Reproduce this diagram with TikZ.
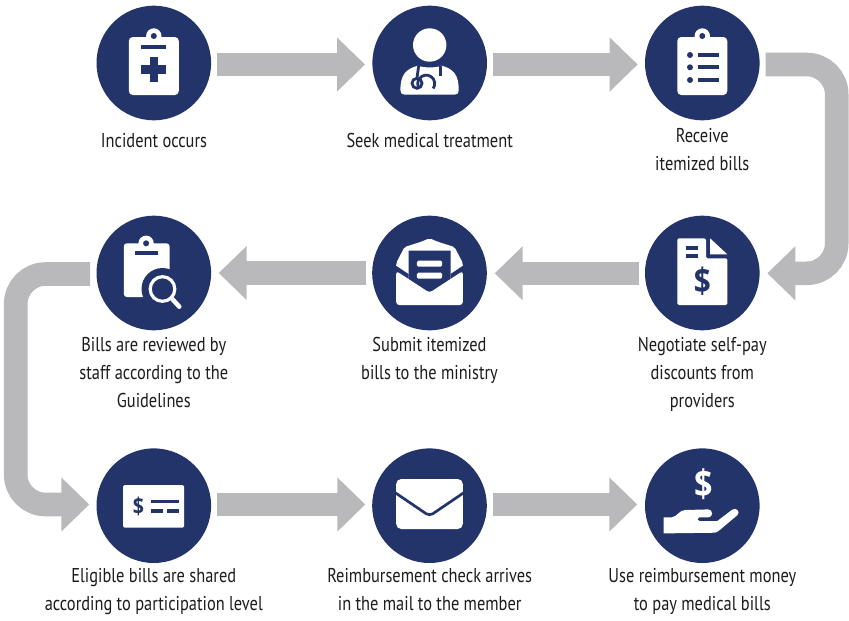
\documentclass[tikz,border=0pt]{standalone}
\usepackage{fontspec}
\setmainfont[FakeStretch=0.82]{PT Sans}
\newfontfamily\dollarfont[FakeStretch=0.85]{Open Sans}
\usetikzlibrary{arrows.meta,calc}
\definecolor{navy}{HTML}{22346A}
\definecolor{flowgray}{HTML}{B9B8BA}
\definecolor{ink}{HTML}{1C1C1C}
\tikzset{
  disc/.style={circle,fill=navy,minimum size=114.6pt,inner sep=0pt,outer sep=0pt},
  flow/.style={draw=flowgray,line width=23.6pt,-{Triangle[width=52.4pt,length=28pt,fill=flowgray]}},
  lbl/.style={anchor=north,inner sep=0pt,outer sep=0pt,align=center,text=ink,
    font=\fontsize{20}{28}\selectfont,execute at begin node=\strut},
  wh/.style={fill=white},
  nv/.style={fill=navy},
  dollar/.style={inner sep=0pt,font=\dollarfont\bfseries\fontsize{#1}{#1}\selectfont},
}
\begin{document}
\begin{tikzpicture}[x=1pt,y=-1pt]
\useasboundingbox (0,0) rectangle (849,621);
% discs
\node[disc] (c1) at (153.8,63) {};
\node[disc] (c2) at (429.7,63) {};
\node[disc] (c3) at (702.3,63) {};
\node[disc] (c4) at (702.3,273) {};
\node[disc] (c5) at (429.5,273) {};
\node[disc] (c6) at (153.8,273) {};
\node[disc] (c7) at (153.8,505.7) {};
\node[disc] (c8) at (429.5,505.7) {};
\node[disc] (c9) at (702.3,505.7) {};
% connectors
\draw[flow] ($(c1.center)+(63.2,1.5)$) -- ($(c2.center)+(-64.7,1.5)$);
\draw[flow] ($(c2.center)+(63.6,1.5)$) -- ($(c3.center)+(-64.6,1.5)$);
\coordinate (ra) at ($(c3.center)+(63.4,1.5)$);
\coordinate (rb) at (836.7,64.5);
\coordinate (rc) at (836.7,273.3);
\coordinate (rd) at ($(c4.center)+(65,0.3)$);
\draw[flow,rounded corners=30pt] (ra) -- (rb) -- (rc) -- (rd);
\draw[flow] ($(c4.center)+(-63.6,0.3)$) -- ($(c5.center)+(65.2,0.3)$);
\draw[flow] ($(c5.center)+(-63.5,0)$) -- ($(c6.center)+(64.9,0)$);
\coordinate (la) at ($(c6.center)+(-63.8,1)$);
\coordinate (lb) at (15.7,274);
\coordinate (lc) at (15.7,504.5);
\coordinate (ld) at ($(c7.center)+(-64.5,-1.2)$);
\draw[flow,rounded corners=30pt] (la) -- (lb) -- (lc) -- (ld);
\draw[flow] ($(c7.center)+(63.5,-1.2)$) -- ($(c8.center)+(-64.2,-1.2)$);
\draw[flow] ($(c8.center)+(63.8,-1.2)$) -- ($(c9.center)+(-65,-1.2)$);
% labels
\node[lbl] (t1) at (154,128.1) {Incident occurs};
\node[lbl] (t2) at (429.7,128.1) {Seek medical treatment};
\node[lbl] (t3) at (702.3,128.1) {Receive\\itemized bills};
\node[lbl] (t4) at (702.3,337.7) {Negotiate self-pay\\discounts from\\providers};
\node[lbl] (t5) at (429.5,337.7) {Submit itemized\\bills to the ministry};
\node[lbl] (t6) at (153.8,337.7) {Bills are reviewed by\\staff according to the\\Guidelines};
\node[lbl] (t7) at (153.8,568.7) {Eligible bills are shared\\according to participation level};
\node[lbl] (t8) at (429.7,568.7) {Reimbursement check arrives\\in the mail to the member};
\node[lbl] (t9) at (702.3,568.7) {Use reimbursement money\\to pay medical bills};
% icon 1: clipboard with cross
\begin{scope}[shift={(c1.center)}]
  \fill[wh,rounded corners=4pt] (-25,-26) rectangle (25,32);
  \fill[wh] (0,-27) circle (7.7);
  \fill[nv] (0,-27) circle (3);
  \fill[nv] (-12.5,-18.3) rectangle (12.5,-14);
  \fill[nv] (-12.5,2.4) rectangle (12.5,11);
  \fill[nv] (-4.2,-5.7) rectangle (4.2,19);
\end{scope}
% icon 2: doctor
\begin{scope}[shift={(c2.center)}]
  \fill[wh] (0,-18) circle (16.7);
  \fill[wh] (-29.3,27) .. controls (-29.3,12) and (-24,6) .. (-12,2.7) .. controls (-6,5) and (6,5) .. (12,2.7)
     .. controls (24,6) and (29,12) .. (29,27) .. controls (29,30) and (28,31.7) .. (25,31.7) -- (-25,31.7)
     .. controls (-28,31.7) and (-29.3,30) .. (-29.3,27) -- cycle;
  \draw[navy,line width=2.8pt] (-11,2.5) -- (-12.7,15);
  \draw[navy,line width=2.8pt] (-12.7,20.3) circle (5);
  \draw[navy,line width=2.8pt] (10.7,2.5) -- (10.7,13);
  \draw[navy,line width=2.8pt] (3.5,25.5) arc[start angle=-145,end angle=-395,radius=-8.5];
\end{scope}
% icon 3: clipboard with list
\begin{scope}[shift={(c3.center)}]
  \fill[wh,rounded corners=4pt] (-25,-26) rectangle (25,32);
  \fill[wh] (0,-27) circle (7.7);
  \fill[nv] (0,-27) circle (3);
  \foreach \yy in {-8,4.3,17}{
    \fill[nv] (-12.3,\yy) circle (3);
    \fill[nv] (-4,\yy-2) rectangle (16.7,\yy+2);
  }
\end{scope}
% icon 4: document with dollar
\begin{scope}[shift={(c4.center)}]
  \fill[wh,rounded corners=1.5pt] (-25,-34.7) -- (3.7,-34.7) -- (3.7,-14.7) -- (25,-14.7) -- (25,32) -- (-25,32) -- cycle;
  \fill[wh] (7.7,-34.7) -- (25,-18.7) -- (7.7,-18.7) -- cycle;
  \fill[nv] (-16.7,-27) rectangle (-4.3,-23);
  \fill[nv] (-16.7,-18.7) rectangle (-4.3,-14.7);
  \node[dollar=35,text=navy] (d4) at (0,8.7) {\$};
\end{scope}
% icon 5: open envelope
\begin{scope}[shift={(c5.center)}]
  \fill[wh,rounded corners=2pt] (-33.3,-10) -- (-25,-26) -- (-9,-31) -- (0,-34.7) -- (9,-31) -- (25,-26) -- (33.3,-10) -- (33.3,10) -- (-33.3,10) -- cycle;
  \fill[nv] (-21,-22.3) -- (21,-22.3) -- (21,8) -- (36,8) -- (36,14) -- (-36,14) -- (-36,8) -- (-21,8) -- cycle;
  \fill[nv] (-36,-9) -- (-21,1) -- (-21,14) -- (-36,14) -- cycle;
  \fill[nv] (36,-9) -- (21,1) -- (21,14) -- (36,14) -- cycle;
  \fill[wh,rounded corners=3pt] (-33.3,-2) -- (0,19.7) -- (33.3,-2) -- (33.3,32) -- (-33.3,32) -- cycle;
  \fill[wh,rounded corners=1.5pt] (-12.7,-12.3) rectangle (12.7,-6.3);
  \fill[wh,rounded corners=1.5pt] (-12.7,-0.3) rectangle (12.7,5.7);
\end{scope}
% icon 6: clipboard with magnifier
\begin{scope}[shift={(c6.center)}]
  \fill[wh,rounded corners=3pt] (-30,-29.7) rectangle (15.7,24);
  \fill[wh] (-7.7,-29.7) circle (7.7);
  \fill[nv] (-7.7,-29.7) circle (3);
  \fill[nv] (-18.7,-21.7) rectangle (4,-18);
  \fill[nv] (8.7,16) circle (21);
  \draw[white,line width=3.2pt] (8.7,16) circle (12.3);
  \draw[white,line width=4.5pt,line cap=round] (18,25.5) -- (25.5,33.7);
\end{scope}
% icon 7: cheque
\begin{scope}[shift={(c7.center)}]
  \fill[wh,rounded corners=1.5pt] (-30.7,-20.7) rectangle (30.3,22);
  \node[dollar=23,text=navy] (d7) at (-15.3,0.5) {\$};
  \fill[nv] (-3,-5.7) rectangle (24.7,-2.3);
  \fill[nv] (-3,3.7) rectangle (8.7,7);
  \fill[nv] (13,3.7) rectangle (24.7,7);
\end{scope}
% icon 8: closed envelope
\begin{scope}[shift={(c8.center)}]
  \fill[wh,rounded corners=5pt] (-33.3,-26.7) rectangle (33.3,23.3);
  \draw[navy,line width=2.7pt,rounded corners=4pt] (-34,-12.8) -- (0,10.3) -- (34,-12.8);
\end{scope}
% icon 9: hand with dollar
\begin{scope}[shift={(c9.center)}]
  \node[dollar=38,text=white] (d9) at (1,-21.3) {\$};
  \fill[wh] (-38.7,11.7) -- (-30.7,11.7) .. controls (-25,11) and (-23,4.3) .. (-17,4.3)
     -- (6,3.7) .. controls (11,3.7) and (11,11.7) .. (6,11.7) -- (-3,11.7)
     .. controls (-5.5,11.7) and (-5.5,15.3) .. (-3,15.3) -- (15,15.3) -- (30,3.9)
     .. controls (34,1.5) and (38.5,6) .. (35,9.5) -- (16,25.5)
     .. controls (15,26.5) and (14.5,27) .. (13,27) -- (-38.7,27.7) -- cycle;
\end{scope}
\end{tikzpicture}
\end{document}
